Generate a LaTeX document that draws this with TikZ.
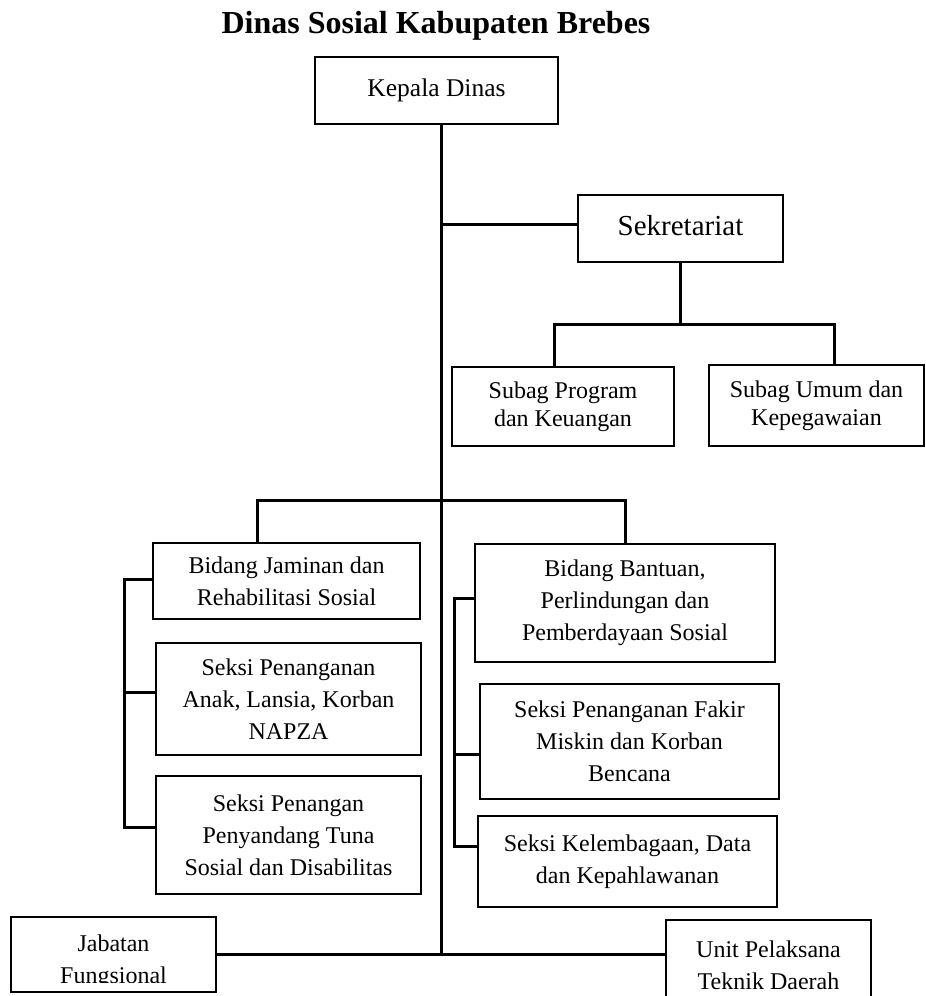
\documentclass[tikz,border=0pt]{standalone}
\usepackage{fontspec}
\setmainfont{Liberation Serif}
\tikzset{
  kotak/.style={draw, line width=1.2pt, inner sep=0pt, align=center, font=\fontsize{24}{32}\selectfont},
  kotakrapat/.style={kotak, font=\fontsize{24}{28}\selectfont},
  garis/.style={line width=3pt},
}

\begin{document}
\begin{tikzpicture}[x=1pt,y=-1pt]
		%%%%% START %%%%%
		\useasboundingbox (0,0) rectangle (926,996);
		
		\node[font=\bfseries\fontsize{32}{36}\selectfont] (judul) at (436,26) {Dinas Sosial Kabupaten Brebes};
		
		% pimpinan dan sekretariat
		\node[kotak, font=\fontsize{25.5}{32}\selectfont, minimum width=243pt, minimum height=67pt] (kepala) at (436.5,90.5) {\raisebox{4pt}{Kepala Dinas}};
		\node[kotak, font=\fontsize{29}{34}\selectfont, minimum width=205pt, minimum height=67pt] (sekre) at (680.5,228.5) {\raisebox{5.5pt}{Sekretariat}};
		\node[kotakrapat, minimum width=222pt, minimum height=79pt] (subprog) at (563,406.5) {Subag Program\\dan Keuangan};
		\node[kotakrapat, minimum width=215pt, minimum height=81pt] (subumum) at (816.5,405.5) {Subag Umum dan\\Kepegawaian};
		
		% bidang kiri
		\node[kotak, minimum width=267pt, minimum height=76pt] (bidjam) at (286.5,581) {Bidang Jaminan dan\\Rehabilitasi Sosial};
		\node[kotak, minimum width=265pt, minimum height=112pt] (seksianak) at (288.5,699) {Seksi Penanganan\\Anak, Lansia, Korban\\NAPZA};
		\node[kotak, minimum width=265pt, minimum height=118pt] (seksituna) at (288.5,835) {Seksi Penangan\\Penyandang Tuna\\Sosial dan Disabilitas};
		
		% bidang kanan
		\node[kotak, minimum width=300pt, minimum height=118pt] (bidban) at (625,603) {Bidang Bantuan,\\Perlindungan dan\\Pemberdayaan Sosial};
		\node[kotak, minimum width=299pt, minimum height=115pt] (seksifakir) at (629.5,741.5) {Seksi Penanganan Fakir\\Miskin dan Korban\\Bencana};
		\node[kotak, minimum width=299pt, minimum height=91pt] (seksilemb) at (627.5,861.5) {Seksi Kelembagaan, Data\\dan Kepahlawanan};
		
		% bawah
		\node[kotak, minimum width=205pt, minimum height=75pt] (jabatan) at (113.5,954.5) {};
		\begin{scope}
			\clip (jabatan.north west) rectangle ([yshift=10pt]jabatan.south east);
			\node[kotak, draw=none] at ([yshift=-7pt]jabatan.center) {Jabatan\\Fungsional};
		\end{scope}
		\node[kotak, minimum width=205pt, minimum height=90pt] (upt) at (768.5,965) {Unit Pelaksana\\Teknik Daerah};
		
		% garis
		\coordinate (pangkal) at (441,954);
		\draw[garis] (kepala.south -| pangkal) -- (pangkal);
		\draw[garis] (jabatan.east) -- (jabatan.east -| upt.west);
		
		\coordinate (sk) at ([yshift=4.5pt]sekre.west);
		\draw[garis] (sk) -- (sk -| pangkal);
		\coordinate (subkiri) at (554,324);
		\coordinate (subkanan) at (834,324);
		\draw[garis] (sekre.south) -- (sekre.south |- subkiri);
		\draw[garis] (subkiri |- subprog.north) -- (subkiri) -- (subkanan) -- (subkanan |- subumum.north);
		
		\coordinate (bidkiri) at (257,500);
		\draw[garis] (bidkiri |- bidjam.north) -- (bidkiri) -| (bidban.north);
		
		\coordinate (kiri) at (124,0);
		\coordinate (kj) at ([yshift=2pt]bidjam.west);
		\coordinate (ka) at ([yshift=7pt]seksianak.west);
		\coordinate (kt) at ([yshift=8pt]seksituna.west);
		\draw[garis] (kj) -| (kiri |- kt) -- (kt);
		\draw[garis] (ka) -- (ka -| kiri);
		
		\coordinate (kanan) at (454,0);
		\coordinate (kb) at ([yshift=5pt]bidban.west);
		\coordinate (kf) at ([yshift=-12.5pt]seksifakir.west);
		\coordinate (kl) at ([yshift=15.5pt]seksilemb.west);
		\draw[garis] (kb) -| (kanan |- kl) -- (kl);
		\draw[garis] (kf) -- (kf -| kanan);
		
		%%%%% END %%%%%
\end{tikzpicture}
\end{document}
